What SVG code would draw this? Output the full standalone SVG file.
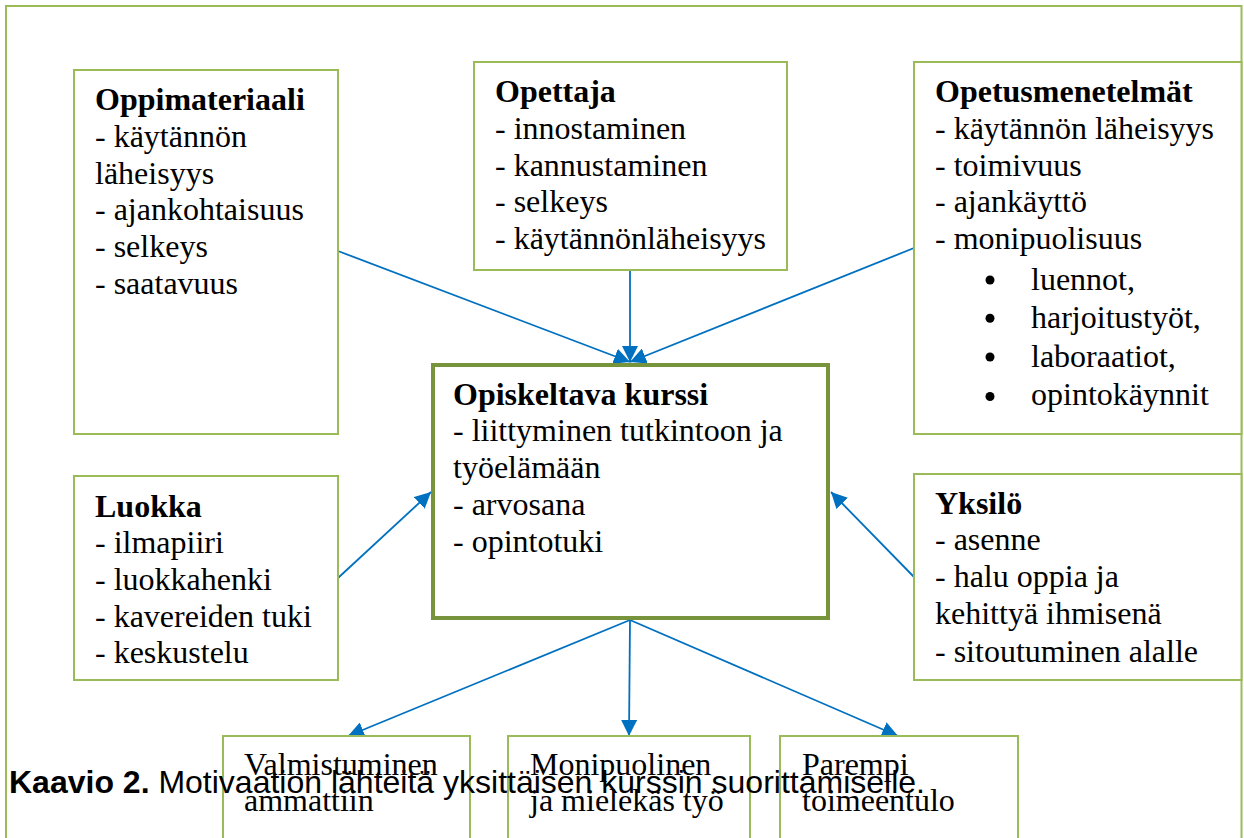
<svg xmlns="http://www.w3.org/2000/svg" width="1244" height="838" viewBox="0 0 1244 838">
<style>
.box{fill:#fff;stroke:#9BBB59;stroke-width:2}
.main{fill:#fff;stroke:#77933C;stroke-width:4}
.t{font-family:"Liberation Serif","Times New Roman",serif;font-size:32px;fill:#000}
.b{font-weight:bold}
.cap{font-family:"Liberation Sans",Arial,sans-serif;font-size:32px;fill:#000}
.con{stroke:#0070C0;stroke-width:1.8;fill:none;marker-end:url(#ah)}
</style>
<defs>
<marker id="ah" markerUnits="userSpaceOnUse" markerWidth="16" markerHeight="16" viewBox="0 0 16 16" refX="16" refY="8" orient="auto">
<path d="M0,0 L16,8 L0,16 Z" fill="#0070C0"/>
</marker>
</defs>
<rect x="0" y="0" width="1244" height="838" fill="#fff"/>
<rect id="frame" x="6" y="6" width="1235.5" height="860" fill="none" stroke="#9BBB59" stroke-width="2"/>

<g id="connectors">
<line class="con" x1="338" y1="251" x2="630" y2="362"/>
<line class="con" x1="630" y1="270" x2="630" y2="362"/>
<line class="con" x1="914" y1="248" x2="630" y2="362"/>
<line class="con" x1="338" y1="578" x2="431" y2="492"/>
<line class="con" x1="914" y1="577" x2="831" y2="492"/>
<line class="con" x1="630" y1="620" x2="348" y2="736"/>
<line class="con" x1="630" y1="620" x2="629" y2="736"/>
<line class="con" x1="630" y1="620" x2="898" y2="736"/>
</g>

<g id="oppimateriaali">
<rect class="box" x="74" y="70" width="264" height="364"/>
<text class="t b" x="95" y="110">Oppimateriaali</text>
<text class="t" x="95" y="147">- käytännön</text>
<text class="t" x="95" y="183.5">läheisyys</text>
<text class="t" x="95" y="220">- ajankohtaisuus</text>
<text class="t" x="95" y="257">- selkeys</text>
<text class="t" x="95" y="294">- saatavuus</text>
</g>

<g id="opettaja">
<rect class="box" x="474" y="62" width="313" height="208"/>
<text class="t b" x="495" y="102">Opettaja</text>
<text class="t" x="495" y="138.5">- innostaminen</text>
<text class="t" x="495" y="175.5">- kannustaminen</text>
<text class="t" x="495" y="212">- selkeys</text>
<text class="t" x="495" y="249">- käytännönläheisyys</text>
</g>

<g id="opetusmenetelmat">
<rect class="box" x="914" y="62" width="327.5" height="372"/>
<text class="t b" x="935" y="102">Opetusmenetelmät</text>
<text class="t" x="935" y="138.5">- käytännön läheisyys</text>
<text class="t" x="935" y="175.5">- toimivuus</text>
<text class="t" x="935" y="212">- ajankäyttö</text>
<text class="t" x="935" y="249">- monipuolisuus</text>
<circle cx="990" cy="280" r="4.5" fill="#000"/>
<circle cx="990" cy="318.3" r="4.5" fill="#000"/>
<circle cx="990" cy="357" r="4.5" fill="#000"/>
<circle cx="990" cy="396.5" r="4.5" fill="#000"/>
<text class="t" x="1031" y="290">luennot,</text>
<text class="t" x="1031" y="328">harjoitustyöt,</text>
<text class="t" x="1031" y="366.5">laboraatiot,</text>
<text class="t" x="1031" y="405">opintokäynnit</text>
</g>

<g id="opiskeltava-kurssi">
<rect class="main" x="433" y="365" width="395" height="253"/>
<text class="t b" x="453" y="405">Opiskeltava kurssi</text>
<text class="t" x="453" y="441">- liittyminen tutkintoon ja</text>
<text class="t" x="453" y="478">työelämään</text>
<text class="t" x="453" y="515">- arvosana</text>
<text class="t" x="453" y="552">- opintotuki</text>
</g>

<g id="luokka">
<rect class="box" x="74" y="476" width="264" height="204"/>
<text class="t b" x="95" y="516.5">Luokka</text>
<text class="t" x="95" y="553">- ilmapiiri</text>
<text class="t" x="95" y="590">- luokkahenki</text>
<text class="t" x="95" y="626.5">- kavereiden tuki</text>
<text class="t" x="95" y="663">- keskustelu</text>
</g>

<g id="yksilo">
<rect class="box" x="914" y="474" width="327.5" height="206"/>
<text class="t b" x="935" y="514">Yksilö</text>
<text class="t" x="935" y="550">- asenne</text>
<text class="t" x="935" y="587">- halu oppia ja</text>
<text class="t" x="935" y="624">kehittyä ihmisenä</text>
<text class="t" x="935" y="661.5">- sitoutuminen alalle</text>
</g>

<g id="valmistuminen">
<rect class="box" x="223" y="736" width="247" height="130"/>
<text class="t" x="244" y="775">Valmistuminen</text>
<text class="t" x="244" y="811">ammattiin</text>
</g>

<g id="monipuolinen">
<rect class="box" x="508" y="736" width="242" height="130"/>
<text class="t" x="530" y="775">Monipuolinen</text>
<text class="t" x="530" y="811">ja mielekäs työ</text>
</g>

<g id="parempi">
<rect class="box" x="780" y="736" width="238" height="130"/>
<text class="t" x="802" y="775">Parempi</text>
<text class="t" x="802" y="811">toimeentulo</text>
</g>

<text id="caption" class="cap" x="9" y="793"><tspan font-weight="bold">Kaavio 2.</tspan> Motivaation lähteitä yksittäisen kurssin suorittamiselle.</text>
</svg>
